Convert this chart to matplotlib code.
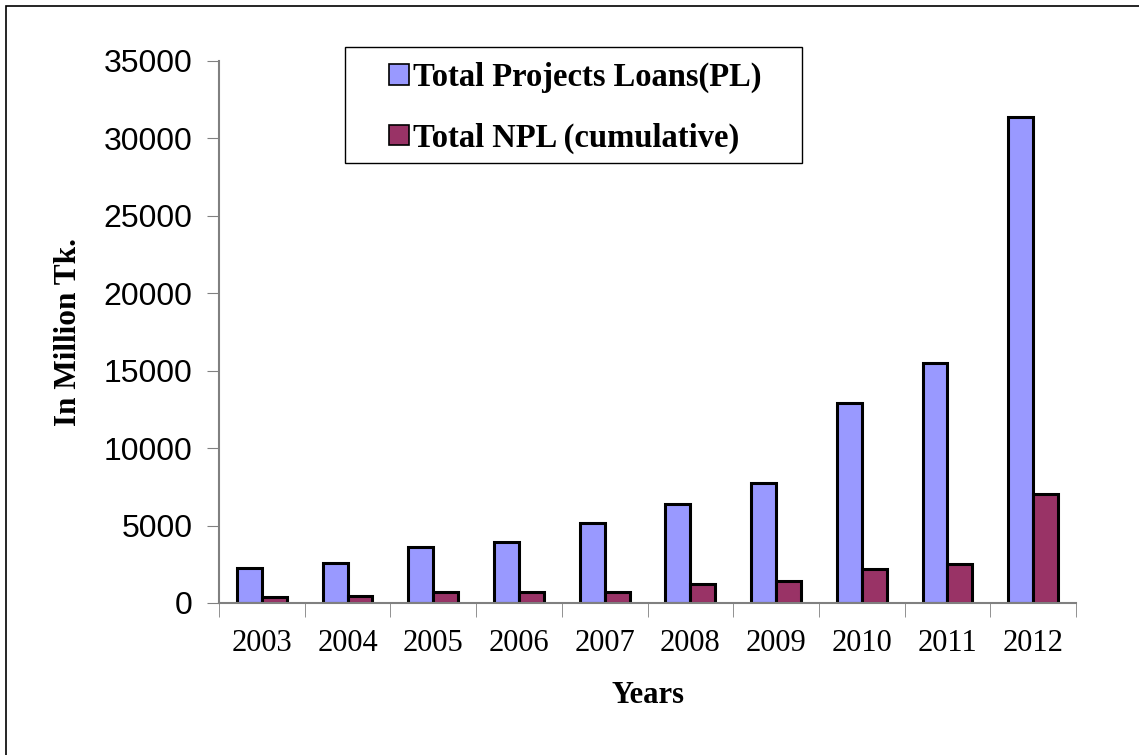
import matplotlib.pyplot as plt
import numpy as np
from matplotlib.patches import Rectangle

years = ['2003', '2004', '2005', '2006', '2007', '2008', '2009', '2010', '2011', '2012']
total_pl = [2240, 2560, 3600, 3940, 5150, 6410, 7750, 12920, 15500, 31400]
total_npl = [390, 450, 710, 710, 710, 1250, 1400, 2220, 2500, 7020]

ind = np.arange(len(years))
width = 0.29
W, H = 1139, 755

fig = plt.figure(figsize=(W / 100, H / 100), dpi=100)
ax = fig.add_axes([219 / W, 1 - 603 / H, 857 / W, 542 / H])

ax.bar(ind - width / 2, total_pl, width, color='#9999FF', edgecolor='black',
       linewidth=2.2, label='Total Projects Loans(PL)')
ax.bar(ind + width / 2, total_npl, width, color='#993366', edgecolor='black',
       linewidth=2.2, label='Total NPL (cumulative)')

ax.set_xlim(-0.5, len(years) - 0.5)
ax.set_ylim(0, 35000)
ax.set_yticks(np.arange(0, 35001, 5000))
ax.tick_params(axis='y', labelsize=23, length=9, color='#808080', pad=10)
ax.set_yticklabels([str(v) for v in range(0, 35001, 5000)], fontfamily='Liberation Sans')

ax.set_xticks(ind)
ax.set_xticklabels(years, fontfamily='Liberation Serif', fontsize=22)
ax.tick_params(axis='x', length=0, pad=19)
ax.set_xticks(np.arange(-0.5, len(years)), minor=True)
ax.tick_params(axis='x', which='minor', length=10, color='#808080')

for s in ['top', 'right']:
    ax.spines[s].set_visible(False)
for s in ['left', 'bottom']:
    ax.spines[s].set_color('#808080')
    ax.spines[s].set_linewidth(1.5)

ax.set_ylabel('In Million Tk.', fontfamily='Liberation Serif', fontweight='bold',
              fontsize=22.5, labelpad=15)
ax.set_xlabel('Years', fontfamily='Liberation Serif', fontweight='bold',
              fontsize=22, labelpad=16)

leg = ax.legend(loc='upper left', bbox_to_anchor=((389 - 219) / 857, (603 - 62) / 542),
                prop={'family': 'Liberation Serif', 'weight': 'bold', 'size': 23.5},
                frameon=False, borderpad=0,
                handlelength=0.6, handleheight=0.6, handletextpad=0.15,
                labelspacing=0.9, borderaxespad=0)
for h in leg.legend_handles:
    h.set_linewidth(1.2)

# legend box
fig.patches.append(Rectangle((345 / W, 1 - 163 / H), 457 / W, 116 / H,
                             transform=fig.transFigure, fill=False,
                             edgecolor='black', linewidth=1))

# outer border of the chart area
fig.patches.append(Rectangle((6 / W, -0.05), 1.2, 1 - 6 / H + 0.05,
                             transform=fig.transFigure, fill=False,
                             edgecolor='black', linewidth=1.2))

fig.savefig('out.png', dpi=100)
